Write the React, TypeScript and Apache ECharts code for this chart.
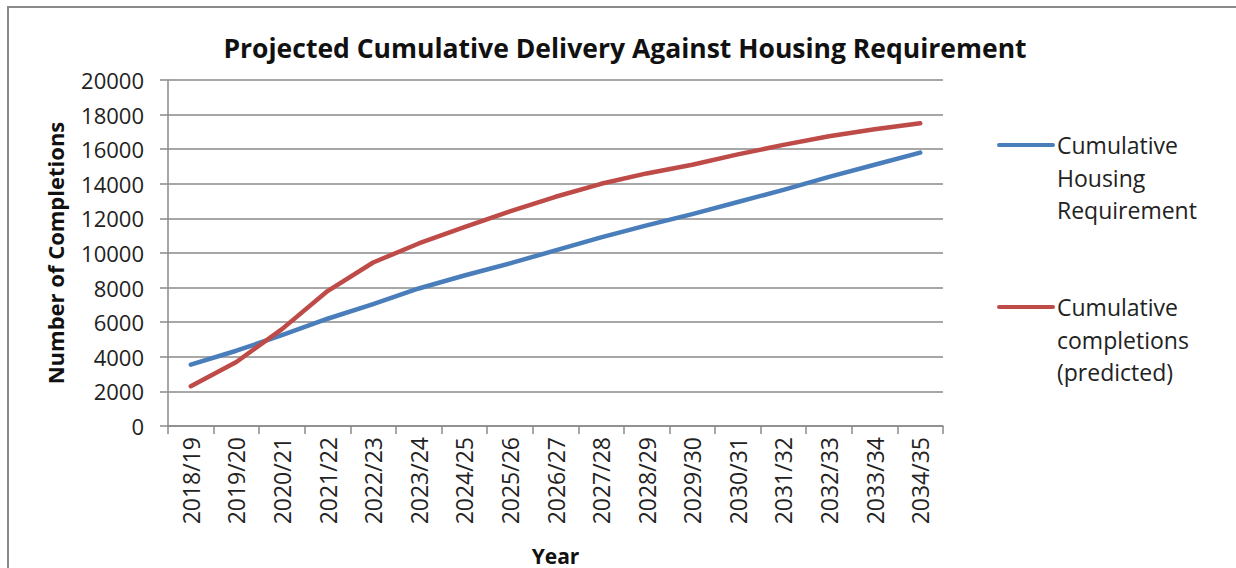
import React, { useEffect, useRef } from "react";
import * as echarts from "echarts";

const years = [
  "2018/19", "2019/20", "2020/21", "2021/22", "2022/23", "2023/24", "2024/25", "2025/26", "2026/27",
  "2027/28", "2028/29", "2029/30", "2030/31", "2031/32", "2032/33", "2033/34", "2034/35",
];
const housingRequirement = [
  3550, 4350, 5250, 6200, 7050, 7950, 8700, 9400, 10150, 10900, 11600, 12250, 12950, 13650, 14400, 15100, 15800,
];
const completionsPredicted = [
  2300, 3700, 5600, 7800, 9450, 10550, 11500, 12400, 13250, 14000, 14600, 15100, 15700, 16250, 16750, 17150, 17500,
];
const seriesNames = ["Cumulative Housing Requirement", "Cumulative completions (predicted)"];
const legendLines = [["Cumulative", "Housing", "Requirement"], ["Cumulative", "completions", "(predicted)"]];
const colors = ["#4A7EBB", "#BE4B48"];

const FONT = "'Open Sans', 'Noto Sans', sans-serif";

export default function App() {
  const ref = useRef<HTMLDivElement>(null);
  useEffect(() => {
    if (!ref.current) return;
    const chart = echarts.init(ref.current, null, { renderer: "svg" });
    const legendGraphics: any[] = [];
    const legendY = [145, 307];
    legendLines.forEach((lines, i) => {
      legendGraphics.push({
        type: "line",
        shape: { x1: 999, y1: legendY[i], x2: 1053, y2: legendY[i] },
        style: { stroke: colors[i], lineWidth: 4, lineCap: "round" },
        silent: true,
      });
      lines.forEach((t, j) => {
        legendGraphics.push({
          type: "text",
          x: 1057,
          y: legendY[i] + j * 32.5,
          style: {
            text: t,
            fill: "#222",
            font: `23px ${FONT}`,
            verticalAlign: "middle",
          },
          silent: true,
        });
      });
    });
    chart.setOption({
      animation: false,
      backgroundColor: "#ffffff",
      title: {
        text: "Projected Cumulative Delivery Against Housing Requirement",
        left: 620,
        top: 29,
        textAlign: "center",
        textStyle: { fontFamily: FONT, fontWeight: "bold", fontSize: 26.5, color: "#111" },
      },
      grid: { left: 168, top: 80, width: 775, height: 346, containLabel: false, outerBoundsMode: "none" },
      xAxis: {
        type: "category",
        data: years,
        boundaryGap: true,
        name: "Year",
        nameLocation: "middle",
        nameGap: 119,
        nameTextStyle: { fontFamily: FONT, fontWeight: "bold", fontSize: 21, color: "#111" },
        axisLine: { lineStyle: { color: "#8a8a8a", width: 1.5 } },
        axisTick: { show: true, length: 8, alignWithLabel: false, lineStyle: { color: "#8a8a8a", width: 1.5 } },
        axisLabel: { rotate: 90, margin: 11, fontFamily: FONT, fontSize: 23, color: "#222", interval: 0 },
        splitLine: { show: false },
      },
      yAxis: {
        type: "value",
        min: 0,
        max: 20000,
        interval: 2000,
        name: "Number of Completions",
        nameLocation: "middle",
        nameGap: 102,
        nameTextStyle: { fontFamily: FONT, fontWeight: "bold", fontSize: 22, color: "#111" },
        axisLine: { show: true, lineStyle: { color: "#8a8a8a", width: 1.5 } },
        axisTick: { show: true, length: 8, lineStyle: { color: "#8a8a8a", width: 1.5 } },
        axisLabel: {
          margin: 24,
          fontFamily: FONT,
          fontSize: 22,
          color: "#222",
          formatter: (v: number) => String(v),
        },
        splitLine: { show: true, lineStyle: { color: "#8a8a8a", width: 1.5 } },
      },
      series: [
        {
          name: seriesNames[0],
          type: "line",
          data: housingRequirement,
          showSymbol: false,
          symbol: "none",
          lineStyle: { color: colors[0], width: 4.5, cap: "round", join: "round" },
          itemStyle: { color: colors[0] },
        },
        {
          name: seriesNames[1],
          type: "line",
          data: completionsPredicted,
          showSymbol: false,
          symbol: "none",
          lineStyle: { color: colors[1], width: 4.5, cap: "round", join: "round" },
          itemStyle: { color: colors[1] },
        },
      ],
      graphic: [
        {
          type: "rect",
          shape: { x: 8, y: 7, width: 1400, height: 700 },
          style: { fill: "none", stroke: "#8a8a8a", lineWidth: 2 },
          silent: true,
        },
        ...legendGraphics,
      ],
    });
    return () => chart.dispose();
  }, []);
  return (
    <div
      ref={ref}
      style={{ position: "absolute", left: 0, top: 0, width: 1236, height: 568, background: "#fff" }}
    />
  );
}
